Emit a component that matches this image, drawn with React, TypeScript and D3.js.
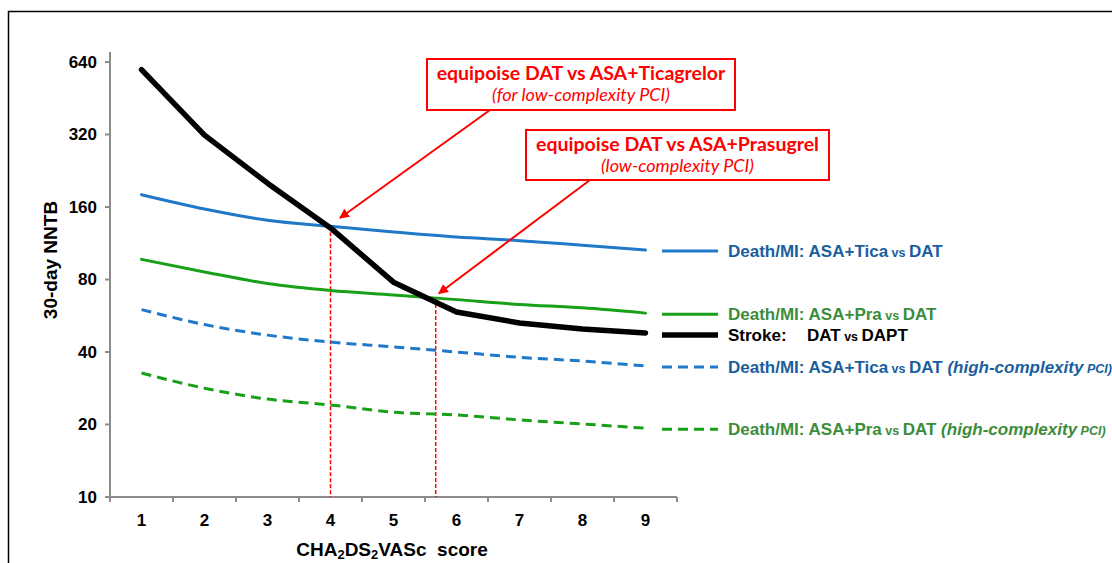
import React from "react";
import * as d3 from "d3";

const categories = [1, 2, 3, 4, 5, 6, 7, 8, 9];
const yTicks = [10, 20, 40, 80, 160, 320, 640];

const strokeDATvsDAPT = [595, 318, 201, 131, 78, 58.6, 52.8, 49.8, 48];
const ticaVsDAT = [180, 157, 141, 133, 126, 120, 116, 111, 106];
const praVsDAT = [97, 86, 77, 72, 69, 66, 63, 61, 58];
const ticaHighVsDAT = [60, 52, 47, 44, 42, 40, 38, 36.7, 35];
const praHighVsDAT = [32.7, 28.3, 25.5, 24.1, 22.5, 21.9, 20.9, 20.1, 19.3];

const equipoiseX = [4, 5.67];
const equipoiseY = [133, 67];
const arrowTipX = [4.15, 5.72];
const arrowTipY = [144, 70];

const BLUE = "#1F78C8";
const BLUE_TEXT = "#1B5E9E";
const GREEN = "#19A019";
const GREEN_TEXT = "#3C8C3C";
const RED = "#FF0000";

const W = 1112;
const H = 563;

export default function App() {
  const xBand = d3.scaleBand<number>().domain(categories).range([110, 677]).padding(0);
  const bw = xBand.bandwidth();
  const xc = (c: number) => (xBand(c) as number) + bw / 2;
  const xLin = d3.scaleLinear().domain([1, 9]).range([xc(1), xc(9)]);
  const y = d3.scaleLog().base(2).domain([10, 640]).range([497, 62]);

  const mk = (vals: number[], curve: any) =>
    d3
      .line<number>()
      .x((_, i) => xc(categories[i]))
      .y((v) => y(v))
      .curve(curve)(vals) as string;

  const series = [
    { vals: ticaVsDAT, color: BLUE, width: 3, dash: undefined, curve: d3.curveMonotoneX },
    { vals: praVsDAT, color: GREEN, width: 3, dash: undefined, curve: d3.curveMonotoneX },
    { vals: ticaHighVsDAT, color: BLUE, width: 3, dash: "10,6", curve: d3.curveMonotoneX },
    { vals: praHighVsDAT, color: GREEN, width: 3, dash: "10,6", curve: d3.curveMonotoneX },
    { vals: strokeDATvsDAPT, color: "#000", width: 5.5, dash: undefined, curve: d3.curveLinear },
  ];

  const axisColor = "#8c8c8c";
  const fontArial = "'Liberation Sans', Arial, sans-serif";
  const fontCal = "Lato, 'Open Sans', sans-serif";

  const legendX1 = 662;
  const legendX2 = 718;
  const legendTextX = 728;
  const lastVal = (a: number[]) => a[a.length - 1];

  const boxes = [
    { x: 427, y: 59, w: 308, h: 51, l1: "equipoise DAT vs ASA+Ticagrelor", l2: "(for low-complexity PCI)", tail: [490, 110] },
    { x: 526, y: 130, w: 303, h: 50, l1: "equipoise DAT vs ASA+Prasugrel", l2: "(low-complexity PCI)", tail: [590, 180] },
  ];

  const small = 12.5;

  return (
    <svg
      width={W}
      height={H}
      style={{ position: "absolute", left: 0, top: 0, background: "#fff" }}
    >
      <defs>
        <marker id="arrowhead" viewBox="0 0 10 10" refX="9" refY="5" markerWidth="5" markerHeight="5" orient="auto">
          <path d="M0,0 L10,5 L0,10 z" fill={RED} />
        </marker>
      </defs>
      <rect x={0} y={0} width={W} height={H} fill="#fff" />
      <rect x={8.5} y={11.5} width={W + 20} height={H + 20} fill="none" stroke="#000" strokeWidth={1.5} />

      {/* y axis */}
      <line x1={110} x2={110} y1={52} y2={497} stroke={axisColor} strokeWidth={2} />
      {yTicks.map((t) => (
        <g key={t}>
          <line x1={105} x2={110} y1={y(t)} y2={y(t)} stroke={axisColor} strokeWidth={2} />
          <text
            x={97}
            y={y(t)}
            dy="0.35em"
            textAnchor="end"
            fontFamily={fontArial}
            fontWeight="bold"
            fontSize={17}
            fill="#000"
          >
            {t}
          </text>
        </g>
      ))}

      {/* x axis */}
      <line x1={110} x2={677} y1={497} y2={497} stroke={axisColor} strokeWidth={2} />
      {categories.map((c) => (
        <g key={c}>
          <line x1={xBand(c) as number} x2={xBand(c) as number} y1={497} y2={502} stroke={axisColor} strokeWidth={2} />
          <text
            x={xc(c)}
            y={520}
            dy="0.35em"
            textAnchor="middle"
            fontFamily={fontArial}
            fontWeight="bold"
            fontSize={17}
          >
            {c}
          </text>
        </g>
      ))}
      <line x1={677} x2={677} y1={497} y2={502} stroke={axisColor} strokeWidth={2} />

      {/* axis titles */}
      <text
        transform={`translate(57,260) rotate(-90)`}
        textAnchor="middle"
        fontFamily={fontArial}
        fontWeight="bold"
        fontSize={19}
      >
        30-day NNTB
      </text>
      <text x={392} y={556} textAnchor="middle" fontFamily={fontArial} fontWeight="bold" fontSize={19}>
        CHA<tspan fontSize={13} dy={3}>2</tspan>
        <tspan dy={-3}>DS</tspan>
        <tspan fontSize={13} dy={3}>2</tspan>
        <tspan dy={-3}>VASc{"\u00a0\u00a0"}score</tspan>
      </text>

      {/* equipoise dashed lines */}
      {equipoiseX.map((ex, i) => (
        <line
          key={i}
          x1={xLin(ex)}
          x2={xLin(ex)}
          y1={y(equipoiseY[i])}
          y2={497}
          stroke={RED}
          strokeWidth={1.5}
          strokeDasharray="4,2"
        />
      ))}

      {/* series */}
      {series.map((s, i) => (
        <path
          key={i}
          d={mk(s.vals, s.curve)}
          fill="none"
          stroke={s.color}
          strokeWidth={s.width}
          strokeDasharray={s.dash}
          strokeLinecap={s.dash ? "butt" : "round"}
          strokeLinejoin="round"
        />
      ))}

      {/* legend lines */}
      {series.map((s, i) => (
        <line
          key={i}
          x1={legendX1}
          x2={legendX2}
          y1={y(lastVal(s.vals)) + (i === 4 ? 2 : 1)}
          y2={y(lastVal(s.vals)) + (i === 4 ? 2 : 1)}
          stroke={s.color}
          strokeWidth={s.width}
          strokeDasharray={s.dash}
        />
      ))}

      {/* legend texts */}
      <g fontFamily={fontArial} fontWeight="bold" fontSize={17}>
        <text x={legendTextX} y={y(lastVal(ticaVsDAT)) + 1} dy="0.35em" fill={BLUE_TEXT}>
          Death/MI: ASA+Tica<tspan fontSize={small}> vs </tspan>DAT
        </text>
        <text x={legendTextX} y={y(lastVal(praVsDAT)) + 1} dy="0.35em" fill={GREEN_TEXT}>
          Death/MI: ASA+Pra<tspan fontSize={small}> vs </tspan>DAT
        </text>
        <text x={legendTextX} y={y(lastVal(strokeDATvsDAPT)) + 2} dy="0.35em" fill="#000">
          Stroke:
          <tspan x={807}>DAT</tspan>
          <tspan fontSize={small}> vs </tspan>DAPT
        </text>
        <text x={legendTextX} y={y(lastVal(ticaHighVsDAT)) + 1} dy="0.35em" fill={BLUE_TEXT}>
          Death/MI: ASA+Tica<tspan fontSize={small}> vs </tspan>DAT{" "}
          <tspan fontStyle="italic">(high-complexity</tspan>
          <tspan fontStyle="italic" fontSize={small}> PCI)</tspan>
        </text>
        <text x={legendTextX} y={y(lastVal(praHighVsDAT)) + 1} dy="0.35em" fill={GREEN_TEXT}>
          Death/MI: ASA+Pra<tspan fontSize={small}> vs </tspan>DAT{" "}
          <tspan fontStyle="italic">(high-complexity</tspan>
          <tspan fontStyle="italic" fontSize={small}> PCI)</tspan>
        </text>
      </g>

      {/* annotation boxes */}
      {boxes.map((b, i) => (
        <g key={i}>
          <line
            x1={b.tail[0]}
            y1={b.tail[1]}
            x2={xLin(arrowTipX[i])}
            y2={y(arrowTipY[i])}
            stroke={RED}
            strokeWidth={2}
            markerEnd="url(#arrowhead)"
          />
          <rect x={b.x} y={b.y} width={b.w} height={b.h} fill="#fff" stroke={RED} strokeWidth={2} />
          <text
            x={b.x + b.w / 2}
            y={b.y + 21}
            textAnchor="middle"
            fontFamily={fontCal}
            fontWeight="bold"
            fontSize={19.5}
            fill={RED}
          >
            {b.l1}
          </text>
          <text
            x={b.x + b.w / 2}
            y={b.y + 42}
            textAnchor="middle"
            fontFamily={fontCal}
            fontStyle="italic"
            fontSize={18}
            fill={RED}
          >
            {b.l2}
          </text>
        </g>
      ))}
    </svg>
  );
}
